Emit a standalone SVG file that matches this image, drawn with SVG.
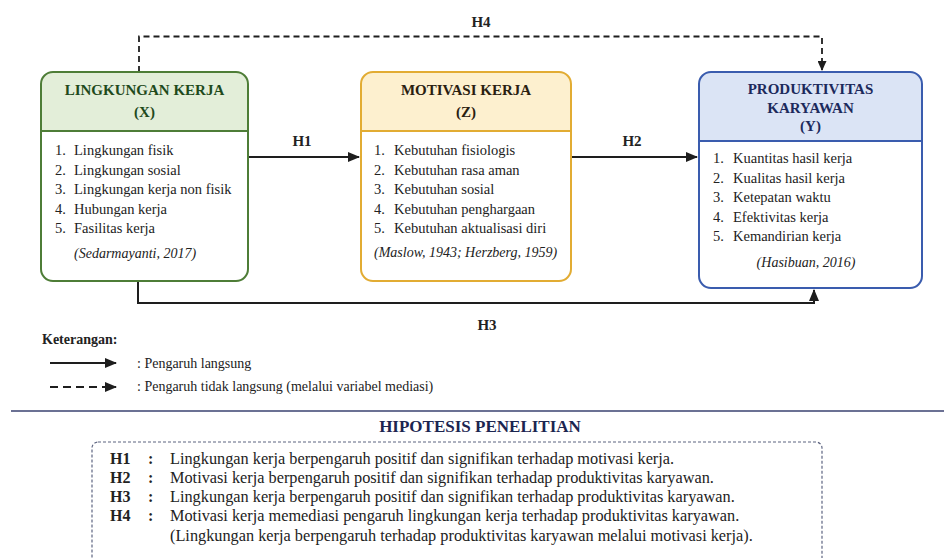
<svg xmlns="http://www.w3.org/2000/svg" width="944" height="558" viewBox="0 0 944 558" font-family="'Liberation Serif', 'DejaVu Serif', serif">
<style>
text{font-family:"Liberation Serif","DejaVu Serif",serif;fill:#222;}
.ttl{font-weight:bold;font-size:15px;text-anchor:middle;}
.it{font-size:14.5px;}
.cit{font-size:14px;font-style:italic;}
.lbl{font-weight:bold;font-size:15px;text-anchor:middle;}
.hy{font-size:16.3px;}
.hyb{font-size:16px;font-weight:bold;}
.con{fill:none;stroke:#1e1e1e;stroke-width:2;}
.dash{fill:none;stroke:#1e1e1e;stroke-width:1.8;stroke-dasharray:6 4;}
</style>
<defs>
<marker id="ah" markerUnits="userSpaceOnUse" markerWidth="12" markerHeight="10" refX="11" refY="5" orient="auto">
<path d="M0,0 L12,5 L0,10 z" fill="#1e1e1e"/>
</marker>
<marker id="ahs" markerUnits="userSpaceOnUse" markerWidth="10" markerHeight="9" refX="9" refY="4.5" orient="auto">
<path d="M0,0 L10,4.5 L0,9 z" fill="#1e1e1e"/>
</marker>
</defs>
<rect width="944" height="558" fill="#ffffff"/>

<g id="connectors">
<path class="dash" d="M139,72 V36.5 H822 V70" marker-end="url(#ahs)"/>
<path class="con" d="M248,157 H359" marker-end="url(#ah)"/>
<path class="con" d="M571,157 H697" marker-end="url(#ah)"/>
<path class="con" d="M138,281 V303 H814 V290" marker-end="url(#ah)"/>
<text class="lbl" x="481" y="27">H4</text>
<text class="lbl" x="302" y="146">H1</text>
<text class="lbl" x="632" y="146">H2</text>
<text class="lbl" x="487" y="330">H3</text>
</g>

<g id="node-x">
<rect x="41" y="72" width="207" height="209" rx="12" fill="#ffffff"/>
<path d="M41,131 V84 A12,12 0 0 1 53,72 H236 A12,12 0 0 1 248,84 V131 Z" fill="#e3eed9"/>
<line x1="41" y1="131" x2="248" y2="131" stroke="#4e7d37" stroke-width="2"/>
<rect x="41" y="72" width="207" height="209" rx="12" fill="none" stroke="#4e7d37" stroke-width="2"/>
<text class="ttl" x="144.5" y="95" style="fill:#1f4a1c">LINGKUNGAN KERJA</text>
<text class="ttl" x="144.5" y="117" style="fill:#1f4a1c">(X)</text>
<text class="it" x="55" y="155">1.</text><text class="it" x="74" y="155">Lingkungan fisik</text>
<text class="it" x="55" y="174.5">2.</text><text class="it" x="74" y="174.5">Lingkungan sosial</text>
<text class="it" x="55" y="194">3.</text><text class="it" x="74" y="194">Lingkungan kerja non fisik</text>
<text class="it" x="55" y="213.5">4.</text><text class="it" x="74" y="213.5">Hubungan kerja</text>
<text class="it" x="55" y="233">5.</text><text class="it" x="74" y="233">Fasilitas kerja</text>
<text class="cit" x="74" y="258">(Sedarmayanti, 2017)</text>
</g>

<g id="node-z">
<rect x="361" y="72" width="210" height="209" rx="12" fill="#ffffff"/>
<path d="M361,131 V84 A12,12 0 0 1 373,72 H559 A12,12 0 0 1 571,84 V131 Z" fill="#fdf0cf"/>
<line x1="361" y1="131" x2="571" y2="131" stroke="#e2ac33" stroke-width="2"/>
<rect x="361" y="72" width="210" height="209" rx="12" fill="none" stroke="#e2ac33" stroke-width="2"/>
<text class="ttl" x="466" y="95" style="fill:#2a2010">MOTIVASI KERJA</text>
<text class="ttl" x="466" y="117" style="fill:#2a2010">(Z)</text>
<text class="it" x="374" y="155">1.</text><text class="it" x="394" y="155">Kebutuhan fisiologis</text>
<text class="it" x="374" y="174.5">2.</text><text class="it" x="394" y="174.5">Kebutuhan rasa aman</text>
<text class="it" x="374" y="194">3.</text><text class="it" x="394" y="194">Kebutuhan sosial</text>
<text class="it" x="374" y="213.5">4.</text><text class="it" x="394" y="213.5">Kebutuhan penghargaan</text>
<text class="it" x="374" y="233">5.</text><text class="it" x="394" y="233">Kebutuhan aktualisasi diri</text>
<text class="cit" x="374" y="257">(Maslow, 1943; Herzberg, 1959)</text>
</g>

<g id="node-y">
<rect x="699" y="72" width="223" height="216" rx="12" fill="#ffffff"/>
<path d="M699,141 V84 A12,12 0 0 1 711,72 H910 A12,12 0 0 1 922,84 V141 Z" fill="#dbe4f5"/>
<line x1="699" y1="141" x2="922" y2="141" stroke="#3a5cae" stroke-width="2"/>
<rect x="699" y="72" width="223" height="216" rx="12" fill="none" stroke="#3a5cae" stroke-width="2"/>
<text class="ttl" x="810.5" y="94" style="fill:#1c2a5c">PRODUKTIVITAS</text>
<text class="ttl" x="810.5" y="112.5" style="fill:#1c2a5c">KARYAWAN</text>
<text class="ttl" x="810.5" y="131" style="fill:#1c2a5c">(Y)</text>
<text class="it" x="713" y="163">1.</text><text class="it" x="733" y="163">Kuantitas hasil kerja</text>
<text class="it" x="713" y="182.5">2.</text><text class="it" x="733" y="182.5">Kualitas hasil kerja</text>
<text class="it" x="713" y="202">3.</text><text class="it" x="733" y="202">Ketepatan waktu</text>
<text class="it" x="713" y="221.5">4.</text><text class="it" x="733" y="221.5">Efektivitas kerja</text>
<text class="it" x="713" y="241">5.</text><text class="it" x="733" y="241">Kemandirian kerja</text>
<text class="cit" x="806" y="267" text-anchor="middle">(Hasibuan, 2016)</text>
</g>

<g id="legend">
<text x="42" y="344" style="font-weight:bold;font-size:14px">Keterangan:</text>
<line x1="50" y1="363" x2="116" y2="363" class="con" marker-end="url(#ah)"/>
<text class="it" x="137" y="368" style="font-size:14px">: Pengaruh langsung</text>
<line x1="50" y1="387" x2="116" y2="387" class="con" style="stroke-dasharray:8 5" marker-end="url(#ah)"/>
<text class="it" x="137" y="391" style="font-size:14px">: Pengaruh tidak langsung (melalui variabel mediasi)</text>
</g>

<g id="hipotesis">
<line x1="11" y1="411" x2="944" y2="411" stroke="#6b7194" stroke-width="2"/>
<text x="480" y="432" text-anchor="middle" style="font-weight:bold;font-size:17px;fill:#1c2550">HIPOTESIS PENELITIAN</text>
<rect x="92" y="442" width="730" height="130" rx="6" fill="none" stroke="#5d6480" stroke-width="1.2" stroke-dasharray="3 2"/>
<text class="hyb" x="110" y="463.5">H1</text><text class="hyb" x="148" y="463.5">:</text><text class="hy" x="170" y="463.5">Lingkungan kerja berpengaruh positif dan signifikan terhadap motivasi kerja.</text>
<text class="hyb" x="110" y="483">H2</text><text class="hyb" x="148" y="483">:</text><text class="hy" x="170" y="483">Motivasi kerja berpengaruh positif dan signifikan terhadap produktivitas karyawan.</text>
<text class="hyb" x="110" y="502">H3</text><text class="hyb" x="148" y="502">:</text><text class="hy" x="170" y="502">Lingkungan kerja berpengaruh positif dan signifikan terhadap produktivitas karyawan.</text>
<text class="hyb" x="110" y="521">H4</text><text class="hyb" x="148" y="521">:</text><text class="hy" x="170" y="521">Motivasi kerja memediasi pengaruh lingkungan kerja terhadap produktivitas karyawan.</text>
<text class="hy" x="170" y="541">(Lingkungan kerja berpengaruh terhadap produktivitas karyawan melalui motivasi kerja).</text>
</g>
</svg>
